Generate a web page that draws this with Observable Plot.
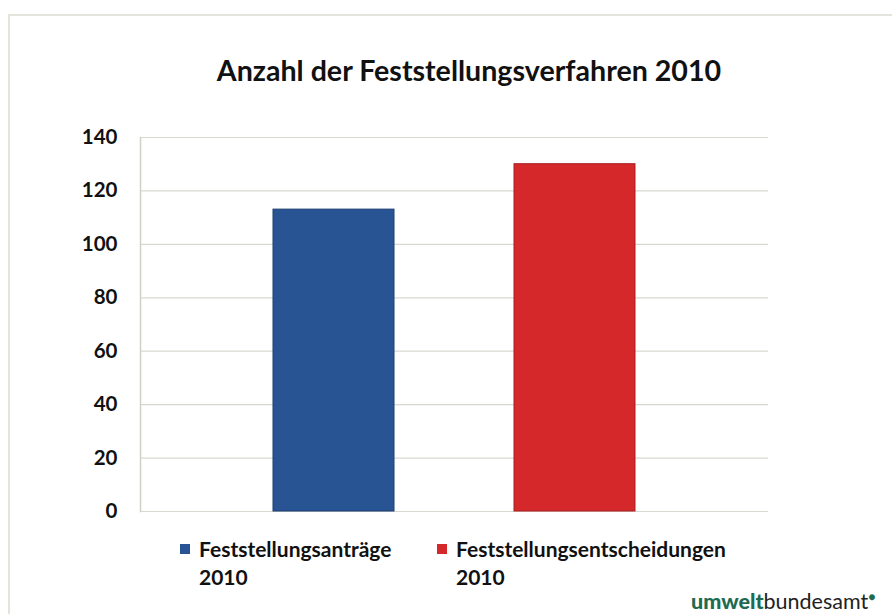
<!DOCTYPE html>
<html><head><meta charset="utf-8">
<script src="https://cdn.jsdelivr.net/npm/d3@7"></script>
<script src="https://cdn.jsdelivr.net/npm/@observablehq/plot@0.6"></script>
<style>
html,body{margin:0;padding:0;background:#fff;}
#wrap{position:relative;width:892px;height:614px;overflow:hidden;font-family:Lato,"Open Sans",sans-serif;}
#frame{position:absolute;left:8px;top:14px;width:900px;height:620px;border-left:2px solid #e4e4dc;border-top:2px solid #e4e4dc;}
#chart{position:absolute;left:0;top:0;}
#title{position:absolute;left:0;width:938px;top:53px;text-align:center;font-weight:700;font-size:28.6px;color:#111;}
.leg{position:absolute;top:535px;font-weight:700;font-size:21px;line-height:28px;color:#111;}
.sw{position:absolute;left:-19px;top:9px;width:10px;height:10px;}
#logo{position:absolute;left:691px;top:588px;font-size:21.5px;color:#222;}
#logo b{color:#1e6b52;font-weight:900;}
#logo sup{color:#1e6b52;font-size:12px;}
</style></head>
<body><div id="wrap"><div id="frame"></div><div id="chart"></div>
<div id="title">Anzahl der Feststellungsverfahren 2010</div>
</div>
<script>
const categories = ["Feststellungsanträge 2010", "Feststellungsentscheidungen 2010"];
const legendLines = [["Feststellungsanträge", "2010"], ["Feststellungsentscheidungen", "2010"]];
const values = [113, 130];
const colors = ["#285493", "#d4282a"];
const strokes = ["#1c3f72", "#a81e20"];
const yTicks = [0, 20, 40, 60, 80, 100, 120, 140];

const data = categories.map((c, i) => ({cat: c, value: values[i], edge: strokes[i]}));

const plot = Plot.plot({
  width: 892, height: 614,
  marginTop: 137, marginBottom: 103, marginLeft: 140, marginRight: 124,
  style: {fontFamily: "Lato, 'Open Sans', sans-serif", background: "transparent"},
  x: {domain: categories, paddingInner: 0.5, paddingOuter: 0.548, axis: null},
  y: {domain: [0, 140], ticks: yTicks, label: null},
  color: {domain: categories, range: colors},
  marks: [
    Plot.gridY(yTicks, {stroke: "#d8d8d0", strokeOpacity: 1, strokeWidth: 1.2}),
    Plot.frame({anchor: "left", stroke: "#d0d0c8", strokeWidth: 1.5}),
    Plot.barY(data, {x: "cat", y: "value", fill: "cat", stroke: "edge", strokeWidth: 1}),
    Plot.axisY(yTicks, {tickSize: 0, tickPadding: 23, fontSize: 20.5, fontWeight: 700, fill: "#111", label: null})
  ]
});
document.getElementById("chart").appendChild(plot);

const wrap = document.getElementById("wrap");
const lefts = [199, 456];
legendLines.forEach((lines, i) => {
  const d = document.createElement("div");
  d.className = "leg";
  d.style.left = lefts[i] + "px";
  d.innerHTML = `<span class="sw" style="background:${colors[i]}"></span>${lines[0]}<br>${lines[1]}`;
  wrap.appendChild(d);
});
const logo = document.createElement("div");
logo.id = "logo";
logo.innerHTML = "<b>umwelt</b>bundesamt<sup>●</sup>";
wrap.appendChild(logo);
</script>
</body></html>
